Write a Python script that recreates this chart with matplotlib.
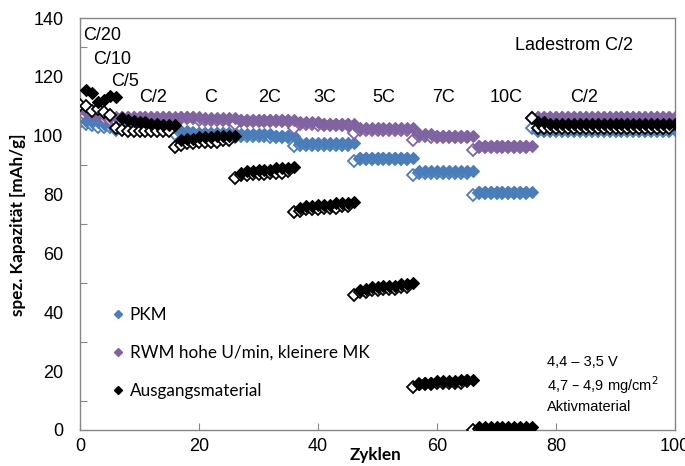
import numpy as np
import matplotlib
matplotlib.use("Agg")
import matplotlib.pyplot as plt
from matplotlib.lines import Line2D

plt.rcParams['font.family'] = ['Liberation Sans', 'DejaVu Sans']

# Zyklennummer 1..100
zyklen = np.arange(1, 101)

# PKM (gefuellt = Laden, offen = Entladen)
pkm_voll = [105, 104.5, 104.5, 104, 104, 103.5,
            103.5, 103.5, 103, 103, 103, 103, 103, 103, 103, 103,
            101.5, 101.5, 101, 101, 101, 101, 101, 101, 101, 101,
            100.5, 100.5, 100.5, 100.5, 100.5, 100.5, 100, 100, 100, 100,
            97.5, 97.5, 97.5, 97.5, 97.5, 97.5, 97.5, 97.5, 97.5, 97.5,
            92.5, 92.5, 92.5, 92.5, 92.5, 92.5, 92.5, 92.5, 92.5, 92.5,
            88, 88, 88, 88, 88, 88, 88, 88, 88, 88,
            81, 81, 81, 81, 81, 81, 81, 81, 81, 81,
            102, 102, 102, 102, 102, 102, 102, 102, 102, 102, 102, 102,
            102, 102, 102, 102, 102, 102, 102, 102, 102, 102, 102, 102]
pkm_offen = [104.5, 104, 103.5, 103, 103, 103,
             102, 102.5, 102.5, 102.5, 102.5, 102.5, 102.5, 102.5, 102.5, 102.5,
             100.5, 101, 101, 101, 100.5, 100.5, 100.5, 100.5, 100.5, 100.5,
             99.5, 100, 100, 100, 100, 100, 99.5, 99.5, 99.5, 99.5,
             96.5, 97, 97, 97, 97, 97, 97, 97, 97, 97,
             91.5, 92, 92, 92, 92, 92, 92, 92, 92, 92,
             86.5, 87.5, 87.5, 87.5, 87.5, 87.5, 87.5, 87.5, 87.5, 87.5,
             80, 80.5, 80.5, 80.5, 80.5, 80.5, 80.5, 80.5, 80.5, 80.5,
             102.5, 101.5, 101.5, 101.5, 101.5, 101.5, 101.5, 101.5, 101.5, 101.5, 101.5, 101.5,
             101.5, 101.5, 101.5, 101.5, 101.5, 101.5, 101.5, 101.5, 101.5, 101.5, 101.5, 101.5]

# RWM hohe U/min, kleinere MK
rwm_voll = [108, 107.5, 107, 107, 106.5, 106.5,
            106.5, 106.5, 106.5, 106.5, 106.5, 106.5, 106.5, 106.5, 106.5, 106.5,
            106.5, 106.5, 106.5, 106.5, 106, 106, 106, 106, 106, 106,
            105.5, 105.5, 105.5, 105.5, 105.5, 105.5, 105.5, 105.5, 105.5, 105.5,
            104.5, 104.5, 104.5, 104.5, 104, 104, 104, 104, 104, 104,
            102.5, 102.5, 102.5, 102.5, 102.5, 102.5, 102.5, 102.5, 102.5, 102.5,
            100.5, 100.5, 100.5, 100, 100, 100, 100, 100, 100, 100,
            96.5, 96.5, 96.5, 96.5, 96.5, 96.5, 96.5, 96.5, 96.5, 96.5,
            106.5, 106.5, 106.5, 106.5, 106.5, 106.5, 106.5, 106.5, 106.5, 106.5, 106.5, 106.5,
            106.5, 106.5, 106.5, 106.5, 106.5, 106.5, 106.5, 106.5, 106.5, 106.5, 106.5, 106.5]
rwm_offen = [109, 108.5, 108, 107.5, 106, 105.5,
             105, 106, 106, 106, 106, 106, 106, 106, 106, 106,
             104.5, 106, 106, 106, 105.5, 105.5, 105.5, 105.5, 105.5, 105.5,
             104, 105, 105, 105, 105, 105, 105, 105, 105, 105,
             102.5, 104, 104, 104, 103.5, 103.5, 103.5, 103.5, 103.5, 103.5,
             101, 102, 102, 102, 102, 102, 102, 102, 102, 102,
             98.5, 100, 100, 99.5, 99.5, 99.5, 99.5, 99.5, 99.5, 99.5,
             95, 96, 96, 96, 96, 96, 96, 96, 96, 96,
             106, 106, 106, 106, 106, 106, 106, 106, 106, 106, 106, 106,
             106, 106, 106, 106, 106, 106, 106, 106, 106, 106, 106, 106]

# Ausgangsmaterial
aus_voll = [115.5, 114.5, 111.5, 112, 113.5, 113,
            106, 105.5, 105, 104.5, 104.5, 104, 104, 103.5, 103.5, 103.5,
            98.5, 99, 99, 99.5, 99.5, 99.5, 100, 100, 100, 100,
            87.5, 88, 88, 88.5, 88.5, 88.5, 89, 89, 89, 89.5,
            75.5, 76, 76, 76.5, 76.5, 76.5, 77, 77, 77, 77.5,
            47.5, 48, 48.5, 48.5, 49, 49, 49, 49.5, 49.5, 50,
            15.5, 16, 16, 16.5, 16.5, 16.5, 16.5, 17, 17, 17,
            1, 1, 1, 1, 1, 1, 1, 1, 1, 1,
            104.5, 104.5, 104, 104, 104, 104, 104, 104, 104, 104, 104, 104,
            104, 104, 104, 104, 104, 104, 104, 104, 104, 104, 104, 104]
aus_offen = [110.5, 110, 108.5, 109, 108, 107,
             102.5, 102, 101.5, 101.5, 101.5, 101.5, 101.5, 101.5, 101.5, 101.5,
             96, 97, 97.5, 97.5, 98, 98, 98, 98, 98.5, 98.5,
             85.5, 86.5, 86.5, 87, 87, 87, 87.5, 87.5, 87.5, 88,
             74, 74.5, 75, 75, 75, 75.5, 75.5, 75.5, 76, 76,
             46, 47, 47, 47.5, 47.5, 48, 48, 48, 48.5, 48.5,
             14.5, 15.5, 15.5, 15.5, 16, 16, 16, 16, 16, 16.5,
             0, 0.5, 0.5, 0.5, 0.5, 0.5, 0.5, 0.5, 0.5, 0.5,
             106, 102.5, 102.5, 102.5, 102.5, 102.5, 102.5, 102.5, 102.5, 102.5, 102.5, 102.5,
             102.5, 102.5, 102.5, 102.5, 102.5, 102.5, 102.5, 102.5, 102.5, 102.5, 102.5, 102.5]

# C-Raten Beschriftung
raten_text = ["C/20", "C/10", "C/5", "C/2", "C", "2C", "3C", "5C", "7C", "10C", "C/2"]
raten_x = [0.5, 2.2, 5.2, 9.9, 20.8, 29.9, 39.3, 49.2, 59.2, 68.9, 82.4]
raten_y = [134, 126, 118.5, 113, 113, 113, 113, 113, 113, 113, 113]

blau = "#4A7EBB"
lila = "#8064A2"
schwarz = "#000000"

fig = plt.figure(figsize=(6.85, 4.66), dpi=100)
ax = fig.add_axes([80 / 685, 36 / 466, 595 / 685, 412 / 466])

serien = [(pkm_voll, pkm_offen, blau, "PKM"),
          (rwm_voll, rwm_offen, lila, "RWM hohe U/min, kleinere MK"),
          (aus_voll, aus_offen, schwarz, "Ausgangsmaterial")]

z = 2
handles = []
for voll, offen, farbe, name in serien:
    ax.plot(zyklen - 1, offen, ls="none", marker="D", ms=6.6, mfc="white",
            mec=farbe, mew=1.3, zorder=z)
    ax.plot(zyklen, voll, ls="none", marker="D", ms=6.6, mfc=farbe,
            mec=farbe, mew=0.8, zorder=z + 1)
    z += 2
    handles.append(Line2D([], [], ls="none", marker="D", ms=3.6, mfc=farbe, mec=farbe))

for t, x, y in zip(raten_text, raten_x, raten_y):
    ax.text(x, y, t, fontsize=13, ha="left", va="center", zorder=10)

ax.text(73.1, 130.8, "Ladestrom C/2", fontsize=13, ha="left", va="center")
ax.text(78.5, 23.1, "4,4 \u2013 3,5 V", fontsize=10.5, ha="left", va="center")
ax.text(78.5, 15.3, "4,7 \u2013 4,9 mg/cm$^2$", fontsize=10.5, ha="left", va="center")
ax.text(78.5, 7.8, "Aktivmaterial", fontsize=10.5, ha="left", va="center")

leg = ax.legend(handles, [s[3] for s in serien], loc="center left",
                bbox_to_anchor=(0.055, 0.187), frameon=False, borderpad=0,
                borderaxespad=0, handlelength=0.6, handletextpad=0.4,
                labelspacing=1.3, prop={"family": "Lato", "size": 12.3})

ax.set_xlim(0, 100)
ax.set_ylim(0, 140)
ax.set_xticks(np.arange(0, 101, 20))
ax.set_yticks(np.arange(0, 141, 20))
ax.set_yticks(np.arange(10, 140, 20), minor=True)
ax.tick_params(axis="x", direction="in", length=5, width=0.8, color="#868686",
               labelsize=13, pad=6)
ax.tick_params(axis="y", which="major", length=0, labelsize=13, pad=12)
ax.tick_params(axis="y", which="minor", direction="in", length=5, width=0.8,
               color="#868686")
for sp in ax.spines.values():
    sp.set_color("#868686")
    sp.set_linewidth(1.0)

ax.set_ylabel("spez. Kapazität [mAh/g]", fontsize=12.3, fontweight="bold",
              family="Lato")
ax.yaxis.set_label_coords(-0.09, 0.498)
ax.set_xlabel("Zyklen", fontsize=12.3, fontweight="bold", family="Lato")
ax.xaxis.set_label_coords(0.496, -0.042)

fig.savefig("out.png", dpi=100)
